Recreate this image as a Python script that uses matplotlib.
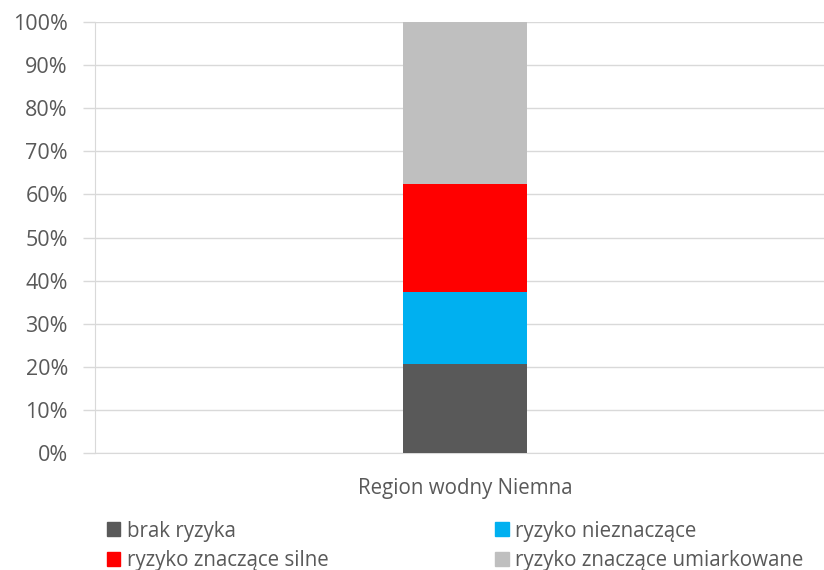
import numpy as np
import matplotlib.pyplot as plt
from matplotlib.patches import Patch

plt.rcParams['font.family'] = ['Open Sans', 'DejaVu Sans']

category = 'Region wodny Niemna'
series = ['brak ryzyka', 'ryzyko nieznaczące', 'ryzyko znaczące silne', 'ryzyko znaczące umiarkowane']
values = [20.6, 16.8, 24.9, 37.7]
colors = ['#595959', '#00b0f0', '#ff0000', '#bfbfbf']

text_col = '#595959'
grid_col = '#d9d9d9'

fig = plt.figure(figsize=(8.24, 5.70), dpi=100)
ax = fig.add_axes([95/824, 117/570, 729/824, 431/570])

bottom = 0
for name, v, c in zip(series, values, colors):
    ax.bar(0, v / 100, width=0.1676, bottom=bottom, color=c, label=name, zorder=3)
    bottom += v / 100

ax.set_xlim(-0.5, 0.485)
ax.set_ylim(0, 1)
ax.set_yticks(np.arange(0, 1.01, 0.1))
ax.set_yticklabels([f'{int(round(t*100))}%' for t in np.arange(0, 1.01, 0.1)])
ax.set_xticks([0])
ax.set_xticklabels([category])
ax.yaxis.grid(True, color=grid_col, linewidth=1, zorder=0)
for s in ['top', 'right']:
    ax.spines[s].set_visible(False)
for s in ['left', 'bottom']:
    ax.spines[s].set_color(grid_col)
ax.tick_params(axis='y', colors=grid_col, labelcolor=text_col, labelsize=15.5, length=9, width=1, pad=10.5)
ax.tick_params(axis='x', length=0, labelcolor=text_col, labelsize=14.8, pad=18)

order = [0, 2, 1, 3]
handles = [Patch(color=colors[i]) for i in order]
labels = [series[i] for i in order]
leg = fig.legend(handles, labels, ncol=2, loc='upper left', bbox_to_anchor=(88/824, 1 - 502/570),
                 frameon=False, fontsize=14.8, handlelength=0.68, handleheight=0.68, handletextpad=0.3,
                 columnspacing=8.1, labelspacing=0.42, labelcolor=text_col)

fig.savefig('out.png', dpi=100)
